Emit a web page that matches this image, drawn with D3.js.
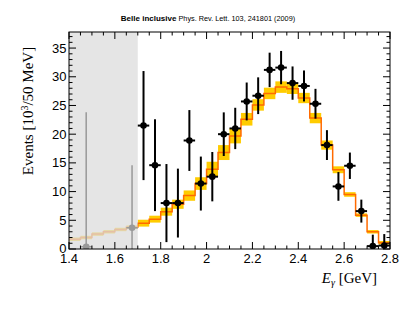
<!DOCTYPE html>
<html><head><meta charset="utf-8">
<script src="https://cdn.jsdelivr.net/npm/d3@7"></script>
<style>body{margin:0;background:#fff}svg{display:block}</style>
</head><body>
<svg id="c" width="415" height="312"></svg>
<script>
// Model histogram (bin lower edges, 0.05 GeV bins)
const binEdges = [1.40,1.45,1.50,1.55,1.60,1.65,1.70,1.75,1.80,1.85,1.90,1.95,2.00,2.05,2.10,2.15,2.20,2.25,2.30,2.35,2.40,2.45,2.50,2.55,2.60,2.65,2.70,2.75];
const modelValues = [1.7,2.0,2.6,3.0,3.4,3.8,4.5,5.2,6.5,7.8,9.3,11.4,13.9,16.8,19.7,22.6,25.1,27.1,28.2,27.9,26.3,22.8,18.1,13.8,9.5,5.9,3.0,1.1];
const modelErrors = [0.3,0.3,0.3,0.3,0.3,0.3,0.6,0.6,0.7,0.8,0.9,1.1,1.3,1.3,1.3,1.1,1.0,1.0,1.0,0.9,0.9,0.9,0.8,0.6,0.4,0.3,0.3,0.3];
// Data points
const dataX = [1.725,1.775,1.825,1.875,1.925,1.975,2.025,2.075,2.125,2.175,2.225,2.275,2.325,2.375,2.425,2.475,2.525,2.575,2.625,2.675,2.725,2.775];
const dataY = [21.5,14.6,8.0,8.0,18.9,11.4,12.6,20.0,21.0,25.7,26.7,31.2,31.6,28.9,28.4,25.3,18.1,10.9,14.5,6.6,0.5,0.6];
const dataErr = [9.5,8.0,6.8,6.0,5.3,4.7,4.3,3.8,3.6,3.3,3.2,3.0,2.9,2.9,2.7,2.6,2.6,2.5,2.3,2.0,2.0,2.0];
// Excluded-region points
const greyX = [1.475,1.675];
const greyY = [0.4,3.7];
const greyErr = [23.4,10.9];
const xTicks = [1.4,1.6,1.8,2.0,2.2,2.4,2.6,2.8];
const yTicks = [0,5,10,15,20,25,30,35];
const binW = 0.05, cutX = 1.7;

const svg = d3.select("#c");
const L=69,R=390,T=32,B=249;
const x = d3.scaleLinear().domain([1.4,2.8]).range([L,R]);
const y = d3.scaleLinear().domain([0,37.8]).range([B,T]);

svg.append("clipPath").attr("id","pc").append("rect")
  .attr("x",L).attr("y",T).attr("width",R-L).attr("height",B-T);
const g = svg.append("g").attr("clip-path","url(#pc)");

// model band
g.selectAll("rect.band").data(binEdges).join("rect")
  .attr("x",d=>x(d)).attr("width",d=>x(d+binW)-x(d))
  .attr("y",(d,i)=>y(modelValues[i]+modelErrors[i]))
  .attr("height",(d,i)=>y(modelValues[i]-modelErrors[i])-y(modelValues[i]+modelErrors[i]))
  .attr("fill","#ffcc00");
// model step line
const pts=[];
binEdges.forEach((e,i)=>{pts.push([x(e),y(modelValues[i])]);pts.push([x(e+binW),y(modelValues[i])]);});
g.append("path").attr("d",d3.line()(pts)).attr("fill","none").attr("stroke","#ff6a00").attr("stroke-width",1.5);

// excluded region overlay
g.append("rect").attr("x",x(1.4)).attr("y",T).attr("width",x(cutX)-x(1.4)).attr("height",B-T)
  .attr("fill","#dcdcdc").attr("opacity",0.75);

function drawPoints(xs,ys,es,col){
  xs.forEach((xv,i)=>{
    g.append("line").attr("x1",x(xv)).attr("x2",x(xv)).attr("y1",y(Math.max(0,ys[i]-es[i]))).attr("y2",y(ys[i]+es[i]))
      .attr("stroke",col).attr("stroke-width",col==="#000"?2:1.5);
    g.append("line").attr("x1",x(xv-binW/2)).attr("x2",x(xv+binW/2)).attr("y1",y(ys[i])).attr("y2",y(ys[i]))
      .attr("stroke",col).attr("stroke-width",col==="#000"?2:1.5);
    g.append("circle").attr("cx",x(xv)).attr("cy",y(ys[i])).attr("r",3.3).attr("fill",col);
  });
}
drawPoints(greyX,greyY,greyErr,"#999");
drawPoints(dataX,dataY,dataErr,"#000");

// frame
svg.append("rect").attr("x",L).attr("y",T).attr("width",R-L).attr("height",B-T)
  .attr("fill","none").attr("stroke","#000").attr("stroke-width",1);

// ticks
const tk = svg.append("g").attr("stroke","#000").attr("stroke-width",1);
for(let v=1.4;v<=2.8001;v+=0.05){
  const major = Math.abs(Math.round(v/0.2)*0.2-v)<1e-6;
  const len = major?7:3.5; const xx=x(v);
  tk.append("line").attr("x1",xx).attr("x2",xx).attr("y1",B).attr("y2",B-len);
  tk.append("line").attr("x1",xx).attr("x2",xx).attr("y1",T).attr("y2",T+len);
}
for(let v=0;v<=37.8;v+=1){
  const major = v%5===0; const len = major?7:3.5; const yy=y(v);
  tk.append("line").attr("x1",L).attr("x2",L+len).attr("y1",yy).attr("y2",yy);
  tk.append("line").attr("x1",R).attr("x2",R-len).attr("y1",yy).attr("y2",yy);
}
// tick labels
const sans = "Liberation Sans, Arial, sans-serif";
svg.append("g").selectAll("text").data(xTicks).join("text")
  .attr("x",d=>x(d)).attr("y",262.5).attr("text-anchor","middle")
  .attr("font-family",sans).attr("font-size",13).text(d=>d3.format("~g")(d));
svg.append("g").selectAll("text").data(yTicks).join("text")
  .attr("x",66.5).attr("y",d=>y(d)+4.5 - (d===0?1:0)).attr("text-anchor","end")
  .attr("font-family",sans).attr("font-size",13).text(d=>d);

// axis titles
const serif = "Liberation Serif, Times New Roman, serif";
const yt = svg.append("text").attr("transform","translate(33,111) rotate(-90)")
  .attr("text-anchor","middle").attr("font-family",serif).attr("font-size",15);
yt.append("tspan").text("Events [10");
yt.append("tspan").attr("dy",-5).attr("font-size",10).text("3");
yt.append("tspan").attr("dy",5).text("/50 MeV]");

const xt = svg.append("text").attr("x",377).attr("y",283).attr("text-anchor","end")
  .attr("font-family",serif).attr("font-size",15);
xt.append("tspan").attr("font-style","italic").text("E");
xt.append("tspan").attr("dy",3).attr("font-size",10).attr("font-style","italic").text("γ");
xt.append("tspan").attr("dy",-3).text(" [GeV]");

// title
const tt = svg.append("text").attr("x",208).attr("y",21).attr("text-anchor","middle").attr("font-family",sans);
tt.append("tspan").attr("font-weight","bold").attr("font-size",8).text("Belle inclusive");
tt.append("tspan").attr("font-size",7.3).text(" Phys. Rev. Lett. 103, 241801 (2009)");
</script>
</body></html>
